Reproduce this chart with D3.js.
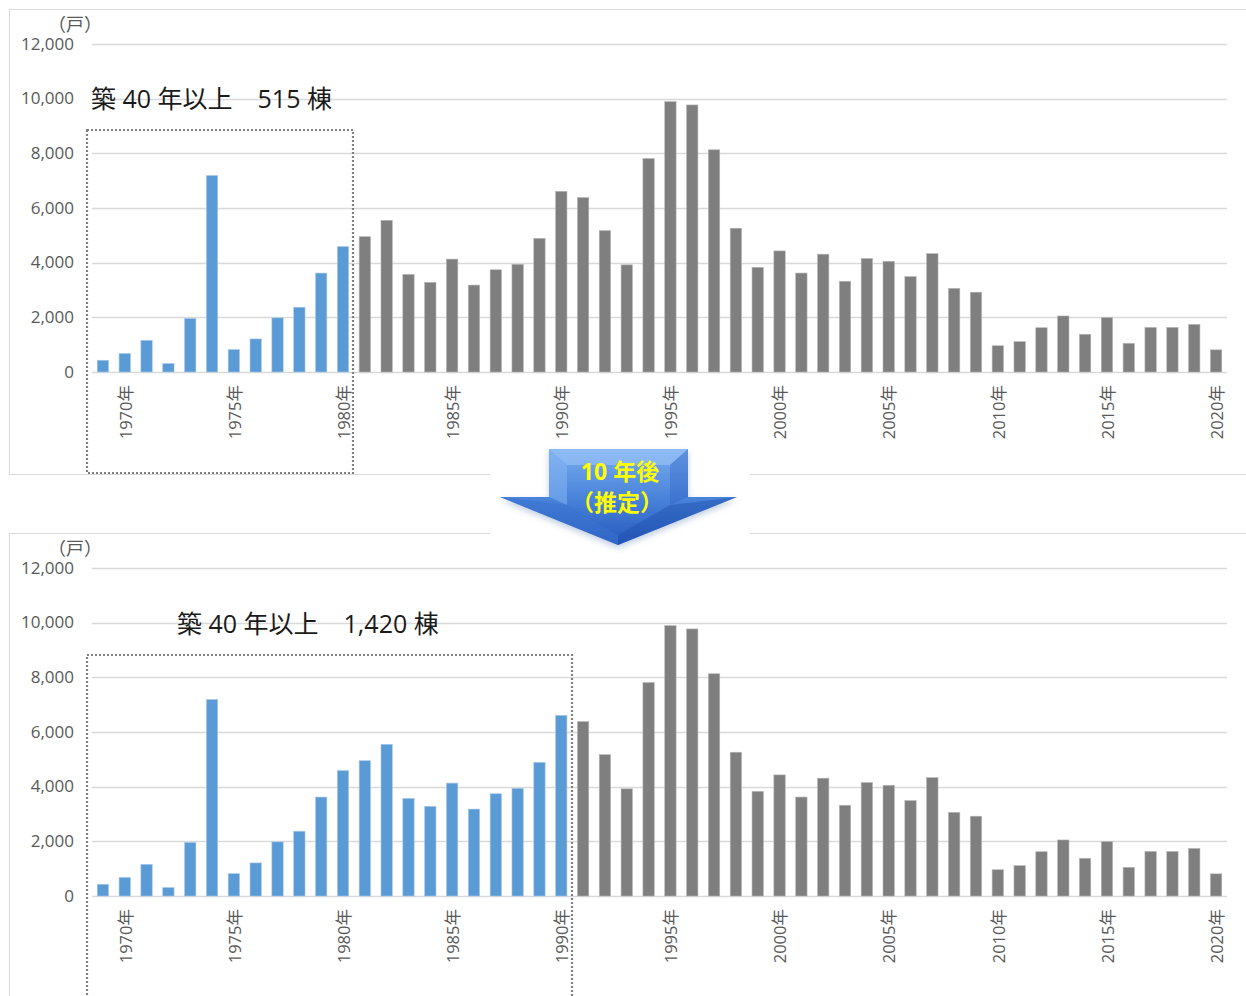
<!DOCTYPE html>
<html><head><meta charset="utf-8">
<script src="https://cdn.jsdelivr.net/npm/d3@7"></script>
<style>body{margin:0;background:#fff}svg{display:block}</style>
</head><body>
<svg id="c" width="1246" height="996"></svg>
<script>
const categories = ["1969年","1970年","1971年","1972年","1973年","1974年","1975年","1976年","1977年","1978年","1979年",
"1980年","1981年","1982年","1983年","1984年","1985年","1986年","1987年","1988年","1989年",
"1990年","1991年","1992年","1993年","1994年","1995年","1996年","1997年","1998年","1999年",
"2000年","2001年","2002年","2003年","2004年","2005年","2006年","2007年","2008年","2009年",
"2010年","2011年","2012年","2013年","2014年","2015年","2016年","2017年","2018年","2019年","2020年"];
const values = [430,680,1160,310,1960,7190,820,1210,1980,2370,3620,
4590,4950,5550,3570,3280,4130,3180,3740,3940,4890,
6610,6380,5170,3920,7810,9890,9770,8130,5260,3830,
4430,3620,4310,3320,4150,4050,3490,4330,3060,2920,
960,1110,1620,2050,1380,1990,1050,1630,1630,1740,810];
const tickLabels = ["1970年","1975年","1980年","1985年","1990年","1995年","2000年","2005年","2010年","2015年","2020年"];
const yTicks = [0,2000,4000,6000,8000,10000,12000];
const cutoffYears = ["1980年","1990年"];
const panelNotes = ["築 40 年以上　515 棟","築 40 年以上　1,420 棟"];
const unitLabel = "（戸）";
const arrowLines = ["10 年後","（推定）"];

const svg = d3.select("#c");
const FONT = "'Open Sans','Noto Sans CJK JP',sans-serif";
const CJK = "'Noto Sans CJK JP','Noto Sans',sans-serif";
const x = d3.scaleBand().domain(categories).range([92,1227]).paddingInner(0.48).paddingOuter(0.24);

const panels = [
  {top:0, frameY:9.5, frameH:465, box:{x0:87, x1:353, y0:130, y1:473}, noteX:91, noteY:108},
  {top:524, frameY:533.5, frameH:520, box:{x0:87, x1:572, y0:655, y1:1010}, noteX:177, noteY:633}
];

panels.forEach((p,pi)=>{
  const g = svg.append("g");
  g.append("rect").attr("x",9.5).attr("y",p.frameY).attr("width",1260).attr("height",p.frameH)
    .attr("fill","#fff").attr("stroke","#d9d9d9").attr("stroke-width",1);
  const y = d3.scaleLinear().domain([0,12000]).range([372+p.top,44+p.top]);
  g.append("g").selectAll("line").data(yTicks).join("line")
    .attr("x1",92).attr("x2",1227).attr("y1",d=>Math.round(y(d))+0.5).attr("y2",d=>Math.round(y(d))+0.5)
    .attr("stroke","#d9d9d9").attr("stroke-width",1.3);
  const yAxis = d3.axisLeft(y).tickValues(yTicks).tickFormat(d3.format(",")).tickSize(0).tickPadding(0);
  const ya = g.append("g").attr("transform","translate(74,0)").call(yAxis);
  ya.select(".domain").remove();
  ya.selectAll("text").attr("fill","#595959").attr("dy","0.3em").style("font-family",FONT).style("font-size","17px");
  g.append("text").attr("x",75).attr("y",31+p.top).attr("text-anchor","middle")
    .attr("fill","#595959").style("font-family",CJK).style("font-size","18px").text(unitLabel);
  const cutIdx = categories.indexOf(cutoffYears[pi]);
  g.append("g").selectAll("rect").data(values).join("rect")
    .attr("x",(d,i)=>x(categories[i])).attr("width",x.bandwidth())
    .attr("y",d=>y(d)).attr("height",d=>y(0)-y(d))
    .attr("fill",(d,i)=> i<=cutIdx ? "#5b9bd5" : "#7f7f7f")
    .attr("stroke",(d,i)=> i<=cutIdx ? "#a9cbea" : "#b5b5b5").attr("stroke-width",0.6);
  const xa = d3.axisBottom(x).tickValues(tickLabels).tickSize(0).tickPadding(0);
  const xg = g.append("g").attr("transform",`translate(0,${372+p.top})`).call(xa);
  xg.select(".domain").remove();
  xg.selectAll("text").attr("transform","rotate(-90)").attr("x",-13).attr("y",1)
    .attr("dy","0.35em").attr("text-anchor","end").attr("fill","#595959")
    .style("font-family",FONT).style("font-size","16.5px");
  g.append("rect").attr("x",p.box.x0).attr("y",p.box.y0).attr("width",p.box.x1-p.box.x0).attr("height",p.box.y1-p.box.y0)
    .attr("fill","none").attr("stroke","#808080").attr("stroke-width",2.2).attr("stroke-dasharray","2,2");
  g.append("text").attr("x",p.noteX).attr("y",p.noteY).attr("fill","#1a1a1a")
    .style("font-family",FONT).style("font-size","25px").text(panelNotes[pi]);
});

const defs = svg.append("defs");
const gr = defs.append("linearGradient").attr("id","ag").attr("x1",0).attr("y1",0).attr("x2",0).attr("y2",1);
gr.append("stop").attr("offset","0%").attr("stop-color","#79adf0");
gr.append("stop").attr("offset","55%").attr("stop-color","#4680d8");
gr.append("stop").attr("offset","100%").attr("stop-color","#2658bd");
const f = defs.append("filter").attr("id","sh").attr("x","-20%").attr("y","-20%").attr("width","140%").attr("height","160%");
f.append("feGaussianBlur").attr("in","SourceAlpha").attr("stdDeviation",3);
f.append("feOffset").attr("dx",0).attr("dy",3).attr("result","b");
f.append("feFlood").attr("flood-color","#6f8fc0").attr("flood-opacity",0.45);
f.append("feComposite").attr("in2","b").attr("operator","in");
const fm = f.append("feMerge"); fm.append("feMergeNode"); fm.append("feMergeNode").attr("in","SourceGraphic");

svg.append("rect").attr("x",490).attr("y",446).attr("width",260).attr("height",104).attr("fill","#fff");
const ag = svg.append("g");
const L=549,R=688,T=449,W=497,WL=500,WR=737,TX=618,TY=545;
ag.append("path").attr("d",`M${L},${T}L${R},${T}L${R},${W}L${WR},${W}L${TX},${TY}L${WL},${W}L${L},${W}Z`)
  .attr("fill","url(#ag)").attr("filter","url(#sh)");
ag.append("path").attr("d",`M${L},${T}L${R},${T}L${R-18},${T+16}L${L+18},${T+16}Z`).attr("fill","#9cc4f6").attr("opacity",0.6);
ag.append("path").attr("d",`M${L},${T}L${L+18},${T+16}L${L+18},${W+8}L${L},${W}Z`).attr("fill","#8ab8f4").attr("opacity",0.5);
ag.append("path").attr("d",`M${R},${T}L${R-18},${T+16}L${R-18},${W+8}L${R},${W}Z`).attr("fill","#2d5fbf").attr("opacity",0.35);
ag.append("path").attr("d",`M${WL},${W}L${L+18},${W+8}L${TX},${TY-10}L${TX},${TY}Z`).attr("fill","#3a72d0").attr("opacity",0.5);
ag.append("path").attr("d",`M${WR},${W}L${R-18},${W+8}L${TX},${TY-10}L${TX},${TY}Z`).attr("fill","#1f4fae").attr("opacity",0.45);
ag.selectAll("text.al").data(arrowLines).join("text").attr("class","al")
  .attr("x",(d,i)=> i===0 ? 620 : 617).attr("y",(d,i)=>480+i*31).attr("text-anchor","middle")
  .attr("fill","#ffff00").style("font-family",FONT).style("font-weight","bold").style("font-size","23px").text(d=>d);
</script>
</body></html>
